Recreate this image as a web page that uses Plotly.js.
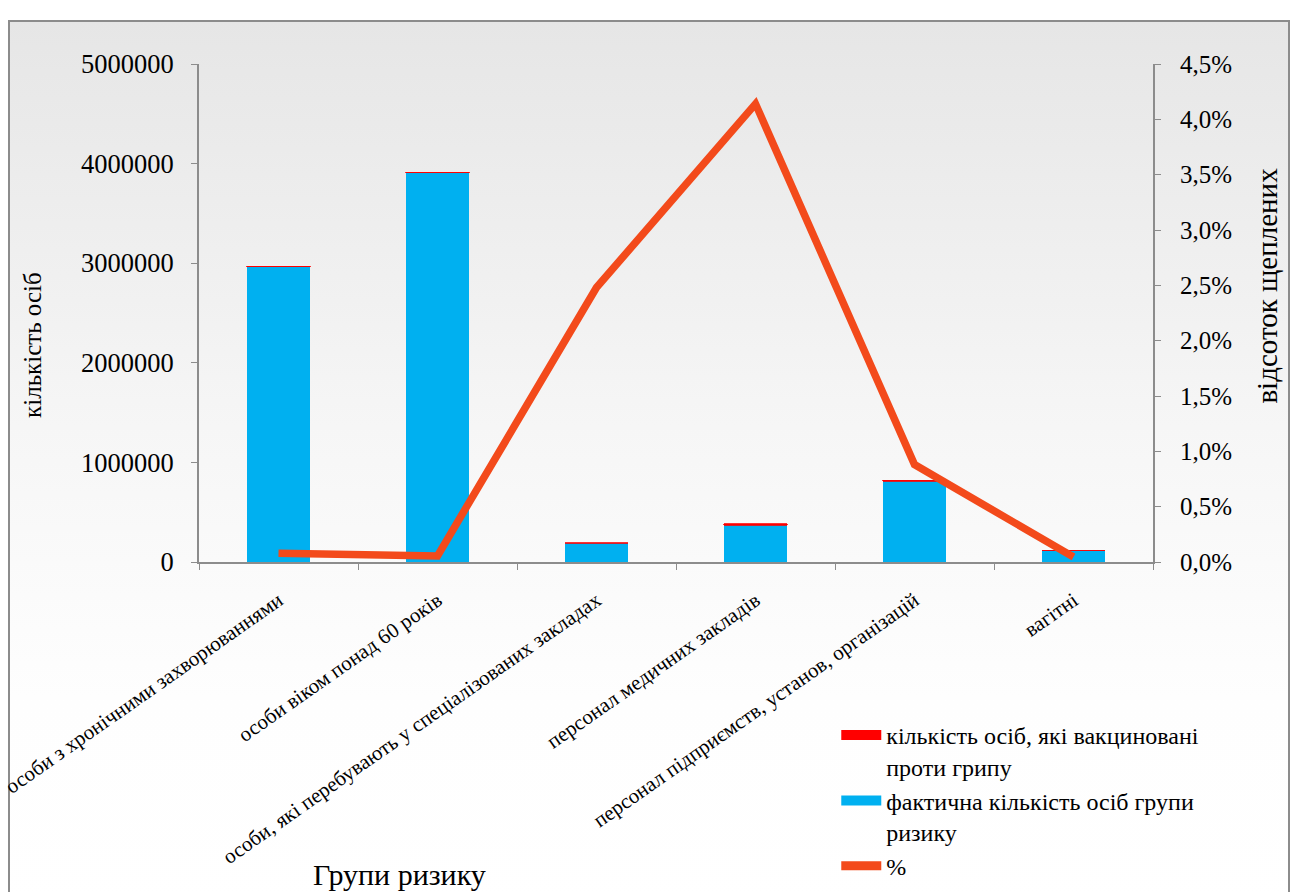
<!DOCTYPE html>
<html>
<head>
<meta charset="utf-8">
<script src="https://cdn.plot.ly/plotly-3.0.1.min.js"></script>
<style>
  html, body { margin:0; padding:0; width:1294px; height:892px; overflow:hidden; background:#ffffff; }
  #frame { position:absolute; left:8px; top:20px; width:1278px; height:900px;
           border:2px solid #8c8c8c; border-bottom:none;
           background:linear-gradient(to bottom, #e6e6e6 0%, #f6f6f6 45%, #fefefe 75%, #ffffff 100%); }
  #chart { position:absolute; left:0; top:0; width:1294px; height:892px; }
</style>
</head>
<body>
<div id="frame"></div>
<div id="chart"></div>
<script>
const categories = [
  "особи з хронічними захворюваннями",
  "особи віком понад 60 років",
  "особи, які перебувають у спеціалізованих закладах",
  "персонал медичних закладів",
  "персонал підприємств, установ, організацій",
  "вагітні"
];
const riskGroupTotal = [2965000, 3910000, 190000, 370000, 812000, 118000];
const vaccinated = [2400, 2100, 4700, 15300, 7100, 55];
const percentVaccinated = [0.0008, 0.00055, 0.0248, 0.0414, 0.0088, 0.00045];

const nameVacc = "кількість осіб, які вакциновані<br>проти грипу";
const nameTotal = "фактична кількість осіб групи<br>ризику";
const namePct = "%";

const serif = "Liberation Serif";
const blue = "#00B0F0", red = "#FF0000", orange = "#F34A1B";

const traces = [
  { type: "bar", x: categories, y: riskGroupTotal, name: nameTotal,
    marker: { color: blue }, showlegend: false },
  { type: "bar", x: categories, y: vaccinated, name: nameVacc,
    marker: { color: red, line: { color: red, width: 0.8 } }, showlegend: false },
  { type: "scatter", mode: "lines", x: categories, y: percentVaccinated, yaxis: "y2",
    name: namePct, line: { color: orange, width: 7.5 }, showlegend: false },
  // legend entries (swatches styled like the reference)
  { type: "scatter", mode: "lines", x: [null], y: [null], name: nameVacc,
    line: { color: red, width: 15 }, legendrank: 1 },
  { type: "scatter", mode: "lines", x: [null], y: [null], name: nameTotal,
    line: { color: blue, width: 15 }, legendrank: 2 },
  { type: "scatter", mode: "lines", x: [null], y: [null], name: namePct,
    line: { color: orange, width: 9 }, legendrank: 3 }
];

const layout = {
  width: 1294, height: 892,
  margin: { l: 199, r: 141, t: 64, b: 330, autoexpand: false },
  paper_bgcolor: "rgba(0,0,0,0)", plot_bgcolor: "rgba(0,0,0,0)",
  barmode: "stack", bargap: 0.6,
  separators: ", ",
  font: { family: serif, color: "#000000" },
  showlegend: true,
  legend: {
    x: 0.668, y: -0.303, xanchor: "left", yanchor: "top", valign: "top",
    font: { family: serif, size: 24, color: "#000" },
    bgcolor: "rgba(0,0,0,0)", tracegroupgap: 0, traceorder: "normal", itemwidth: 40
  },
  xaxis: {
    type: "category", tickangle: -35, tickson: "boundaries",
    ticks: "outside", ticklen: 6, tickcolor: "#8c8c8c",
    ticklabelstandoff: 16,
    showline: true, linecolor: "#8c8c8c", linewidth: 2,
    tickfont: { family: serif, size: 21, color: "#000" },
    automargin: false, showgrid: false
  },
  yaxis: {
    range: [0, 5000000], dtick: 1000000, tickformat: "d",
    ticks: "outside", ticklen: 6, tickcolor: "#8c8c8c",
    ticklabelstandoff: 12,
    showline: true, linecolor: "#8c8c8c", linewidth: 2,
    showgrid: false, zeroline: false,
    tickfont: { family: serif, size: 26.5, color: "#000" },
    automargin: false
  },
  yaxis2: {
    overlaying: "y", side: "right",
    range: [0, 0.045], dtick: 0.005, tickformat: ".1%",
    ticks: "outside", ticklen: 6, tickcolor: "#8c8c8c",
    ticklabelstandoff: 14,
    showline: true, linecolor: "#8c8c8c", linewidth: 2,
    showgrid: false, zeroline: false,
    tickfont: { family: serif, size: 25, color: "#000" },
    automargin: false
  },
  annotations: [
    { text: "кількість осіб", xref: "paper", yref: "paper", x: -0.174, y: 0.436,
      xanchor: "center", yanchor: "middle",
      textangle: -90, showarrow: false, font: { family: serif, size: 25, color: "#000" } },
    { text: "відсоток щеплених", xref: "paper", yref: "paper", x: 1.12, y: 0.556,
      xanchor: "center", yanchor: "middle",
      textangle: -90, showarrow: false, font: { family: serif, size: 29, color: "#000" } },
    { text: "Групи ризику", xref: "paper", yref: "paper", x: 0.21, y: -0.628,
      xanchor: "center", yanchor: "middle",
      showarrow: false, font: { family: serif, size: 30, color: "#000" } }
  ]
};

Plotly.newPlot("chart", traces, layout, { displayModeBar: false, staticPlot: true });
</script>
</body>
</html>
